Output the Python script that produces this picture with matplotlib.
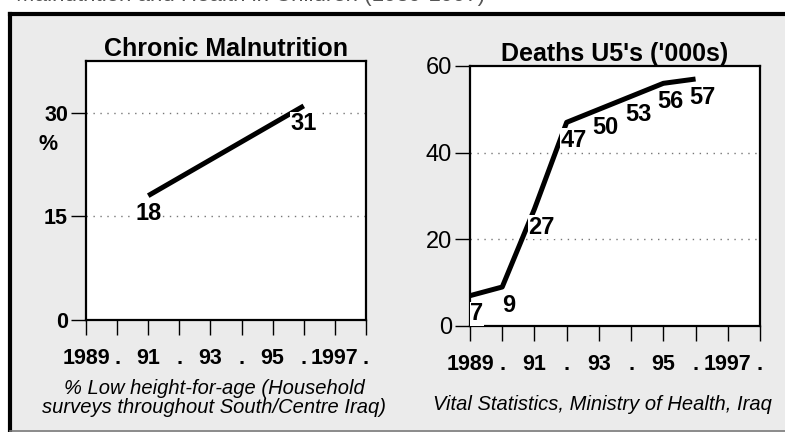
import matplotlib
matplotlib.use("Agg")
import matplotlib.pyplot as plt
from matplotlib.patches import Rectangle
from matplotlib.lines import Line2D

plt.rcParams["font.family"] = ["Liberation Sans", "DejaVu Sans"]

# data
years_ticks = list(range(1989, 1999))
tick_labels = ["1989", ".", "91", ".", "93", ".", "95", ".", "1997", "."]

malnut_years = [1991, 1996]
malnut_values = [18, 31]

deaths_years = [1989, 1990, 1991, 1992, 1993, 1994, 1995, 1996]
deaths_values = [7, 9, 27, 47, 50, 53, 56, 57]

W, H = 785, 432
fig = plt.figure(figsize=(W / 100, H / 100), dpi=100)
fig.patch.set_facecolor("white")

# grey panel with black top/left frame
fig.add_artist(Rectangle((10 / W, 2 / H), 1, 1 - 16 / H, transform=fig.transFigure,
                         facecolor="#ebebeb", edgecolor="none", zorder=0))
fig.add_artist(Line2D([10 / W, 1], [1 - 13.5 / H] * 2, transform=fig.transFigure,
                      color="black", lw=3))
fig.add_artist(Line2D([10 / W] * 2, [0, 1 - 13.5 / H], transform=fig.transFigure,
                      color="black", lw=3))
fig.add_artist(Line2D([10 / W, 1], [1.5 / H] * 2, transform=fig.transFigure,
                      color="#777777", lw=1.2))

# heading, mostly cut off by the top edge as in the source
fig.text(16 / W, 1 - 0.5 / H, "Malnutrition and Health in Children (1989-1997)",
         fontsize=16, color="#555555", va="baseline", ha="left")


def style_axes(ax, bold_y, ysize):
    ax.set_facecolor("white")
    for s in ax.spines.values():
        s.set_linewidth(1.6)
    ax.set_xlim(1989, 1998)
    ax.set_xticks(years_ticks)
    ax.set_xticklabels(tick_labels, fontsize=15.5, fontweight="bold")
    ax.tick_params(axis="x", direction="out", length=11, width=1, pad=9)
    ax.tick_params(axis="y", direction="out", length=11, width=1, pad=2,
                   labelsize=ysize)
    if bold_y:
        for t in ax.get_yticklabels():
            t.set_fontweight("bold")


def label_points(ax, xs, vals, dx):
    for x, v in zip(xs, vals):
        ax.annotate(str(v), (x, v), xytext=(dx, -13), textcoords="offset points",
                    ha="center", va="center", fontsize=17, fontweight="bold",
                    bbox=dict(facecolor="white", edgecolor="none", pad=0.3),
                    zorder=3, annotation_clip=False)


# left chart
ax1 = fig.add_axes([86 / W, 1 - 320 / H, 280 / W, 259 / H])
ax1.set_ylim(0, 37.5)
ax1.set_yticks([0, 15, 30])
style_axes(ax1, True, 15.5)
for g in [15, 30]:
    ax1.axhline(g, color="#777777", ls=(0, (1, 4)), lw=1, zorder=1)
ax1.plot(malnut_years, malnut_values, color="black", lw=3.6,
         solid_capstyle="butt", zorder=2)
label_points(ax1, malnut_years, malnut_values, 0)
ax1.set_title("Chronic Malnutrition", fontsize=18, fontweight="bold", pad=3)
fig.text(48 / W, 1 - 145 / H, "%", fontsize=15.5, fontweight="bold",
         ha="center", va="center")
fig.text(214 / W, 1 - 398 / H,
         "% Low height-for-age (Household\nsurveys throughout South/Centre Iraq)",
         fontsize=14.5, style="italic", ha="center", va="center", linespacing=0.95)

# right chart
ax2 = fig.add_axes([470 / W, 1 - 326 / H, 290 / W, 260 / H])
ax2.set_ylim(0, 60)
ax2.set_yticks([0, 20, 40, 60])
style_axes(ax2, False, 17)
for g in [20, 40]:
    ax2.axhline(g, color="#777777", ls=(0, (1, 4)), lw=1, zorder=1)
ax2.plot(deaths_years, deaths_values, color="black", lw=3.6,
         solid_capstyle="butt", zorder=2)
label_points(ax2, deaths_years, deaths_values, 5)
ax2.set_title("Deaths U5's ('000s)", fontsize=18, fontweight="bold", pad=3)
fig.text(602 / W, 1 - 405 / H, "Vital Statistics, Ministry of Health, Iraq",
         fontsize=14.5, style="italic", ha="center", va="center")

fig.savefig("out.png", dpi=100)
